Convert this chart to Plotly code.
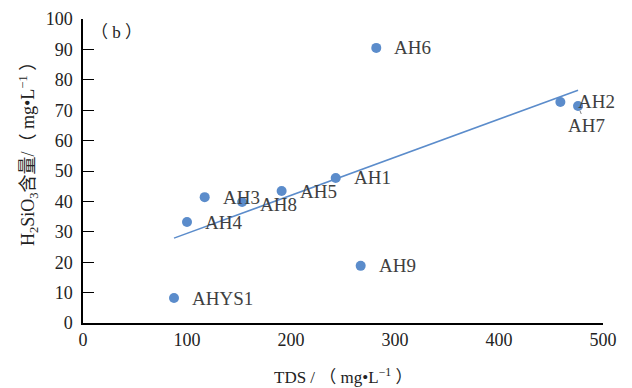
import numpy as np
import plotly.graph_objects as go

names = ["AHYS1", "AH4", "AH3", "AH8", "AH5", "AH1", "AH9", "AH6", "AH2", "AH7"]
tds = [87.5, 100, 117, 153, 191, 243, 267, 282, 459, 476]
h2sio3 = [8.2, 33.2, 41.4, 39.8, 43.4, 47.7, 18.8, 90.5, 72.7, 71.4]

x_ticks = [0, 100, 200, 300, 400, 500]
y_ticks = [0, 10, 20, 30, 40, 50, 60, 70, 80, 90, 100]

blue = "#5B8CCB"
serif = "Liberation Serif, Times New Roman, Noto Sans CJK SC, serif"

slope, intercept = np.polyfit(tds, h2sio3, 1)
x_fit = [min(tds), max(tds)]
y_fit = [slope * v + intercept for v in x_fit]

fig = go.Figure()
fig.add_trace(go.Scatter(x=x_fit, y=y_fit, mode="lines",
                         line=dict(color=blue, width=1.5), hoverinfo="skip"))
fig.add_trace(go.Scatter(x=tds, y=h2sio3, mode="markers",
                         marker=dict(color=blue, size=10)))

label_shift = {"AH8": (16, -2)}
for n, xv, yv in zip(names, tds, h2sio3):
    if n == "AH7":
        fig.add_annotation(x=xv, y=yv, text=n, showarrow=True, arrowhead=0,
                           arrowwidth=1, arrowcolor="#7f7f7f", ax=8, ay=20,
                           standoff=5, font=dict(family=serif, size=19, color="#404040"))
    else:
        xs, ys = label_shift.get(n, (16, 0))
        fig.add_annotation(x=xv, y=yv, text=n, showarrow=False, xanchor="left",
                           xshift=xs, yshift=ys,
                           font=dict(family=serif, size=19, color="#404040"))

fig.add_annotation(x=0.012, y=0.992, xref="paper", yref="paper", text="（ b ）",
                   showarrow=False, xanchor="left",
                   font=dict(family=serif, size=17, color="#222222"))

fig.add_annotation(x=-0.133, y=0.57, xref="paper", yref="paper",
                   text="H<sub>2</sub>SiO<sub>3</sub>含量/（ mg•L<sup>−1</sup> ）",
                   textangle=-90, showarrow=False,
                   font=dict(family=serif, size=18, color="#222222"))

fig.add_annotation(x=0.5, y=-0.218, xref="paper", yref="paper",
                   text="TDS / （ mg•L<sup>−1</sup> ）", showarrow=False,
                   font=dict(family=serif, size=17, color="#222222"))

fig.update_layout(
    width=624, height=380,
    margin=dict(l=75, r=29, t=11, b=65),
    paper_bgcolor="white", plot_bgcolor="white",
    showlegend=False,
    xaxis=dict(range=[0, 500], tickvals=x_ticks, showgrid=False, zeroline=False,
               showline=True, linecolor="black", linewidth=1.5, ticks="",
               automargin=False,
               tickfont=dict(family=serif, size=18, color="#222222")),
    yaxis=dict(range=[0, 100], tickvals=y_ticks, showgrid=False, zeroline=False,
               showline=True, linecolor="black", linewidth=1.5, ticks="inside",
               ticklen=11, tickcolor="black", tickwidth=1, automargin=False,
               ticklabelstandoff=5,
               tickfont=dict(family=serif, size=18, color="#222222")),
)

fig.write_html("out.html")
